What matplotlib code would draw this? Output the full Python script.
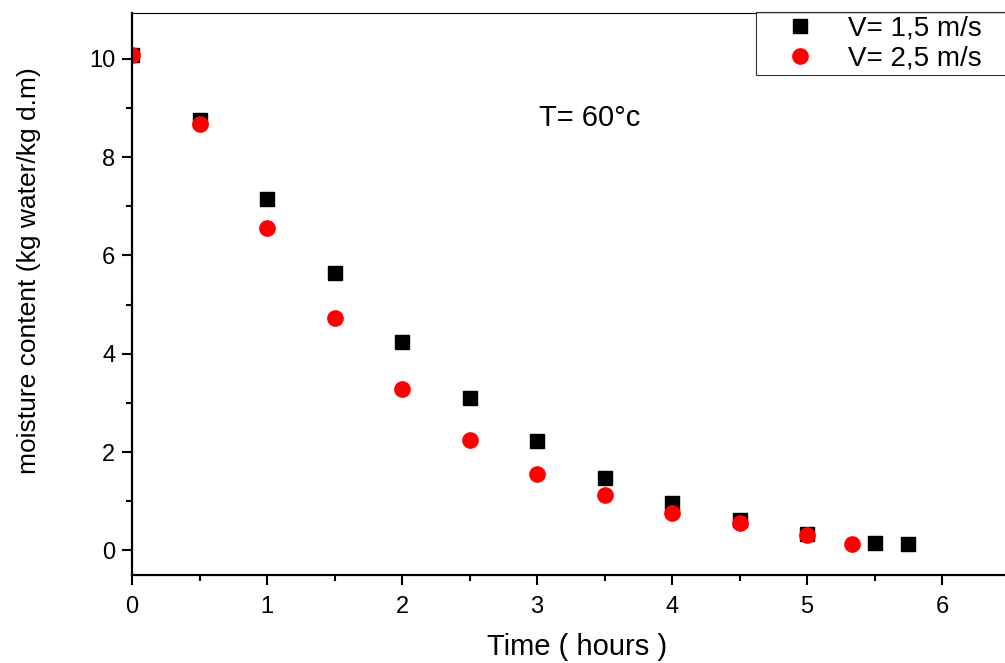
import matplotlib.pyplot as plt

plt.rcParams['font.family'] = ['Liberation Sans', 'DejaVu Sans']

# drying at T = 60 C, two air velocities
t_v15 = [0, 0.5, 1, 1.5, 2, 2.5, 3, 3.5, 4, 4.5, 5, 5.5, 5.75]
mc_v15 = [10.08, 8.76, 7.15, 5.64, 4.24, 3.11, 2.22, 1.47, 0.97, 0.62, 0.34, 0.16, 0.13]

t_v25 = [0, 0.5, 1, 1.5, 2, 2.5, 3, 3.5, 4, 4.5, 5, 5.33]
mc_v25 = [10.08, 8.68, 6.56, 4.72, 3.28, 2.25, 1.55, 1.12, 0.77, 0.55, 0.31, 0.13]

fig = plt.figure(figsize=(10.05, 6.63), dpi=100)
# axes runs past the right edge of the picture, like the original crop
ax = fig.add_axes([132 / 1005, 88 / 663, 891 / 1005, 562 / 663])

ax.plot(t_v15, mc_v15, 's', color='black', markersize=10, label='V= 1,5 m/s')
ax.plot(t_v25, mc_v25, 'o', color='red', markersize=11, label='V= 2,5 m/s')

ax.set_xlim(0, 6.6)
ax.set_ylim(-0.5, 10.93)
ax.set_xticks([0, 1, 2, 3, 4, 5, 6])
ax.set_xticks([0.5, 1.5, 2.5, 3.5, 4.5, 5.5, 6.5], minor=True)
ax.set_yticks([0, 2, 4, 6, 8, 10])
ax.set_yticks([1, 3, 5, 7, 9], minor=True)

ax.tick_params(which='major', direction='out', length=7, width=1.5, labelsize=17)
ax.tick_params(which='minor', direction='out', length=4, width=1.5)
ax.tick_params(axis='x', which='major', pad=8)
ax.tick_params(axis='y', which='major', pad=5)
ax.spines['left'].set_linewidth(1.6)
ax.spines['bottom'].set_linewidth(1.6)
ax.spines['top'].set_linewidth(0.8)

ax.set_xlabel('Time ( hours )', fontsize=21, labelpad=11)
ax.set_ylabel('moisture content (kg water/kg d.m)', fontsize=19)
ax.yaxis.set_label_coords(-0.102, 0.542)

ax.text(3.39, 8.8, 'T= 60°c', fontsize=21, ha='center', va='center')

# legend box also runs off the right edge
leg = ax.legend(loc='upper left', bbox_to_anchor=(756 / 1005, 1 - 12 / 663, 0.27, 0),
                bbox_transform=fig.transFigure, borderaxespad=0, fontsize=20,
                mode='expand', frameon=True, fancybox=False, handletextpad=0.3,
                borderpad=0.12, labelspacing=0.15, handlelength=2.9)
leg.get_frame().set_edgecolor('black')
leg.get_frame().set_linewidth(0.8)

plt.savefig('out.png', dpi=100)
